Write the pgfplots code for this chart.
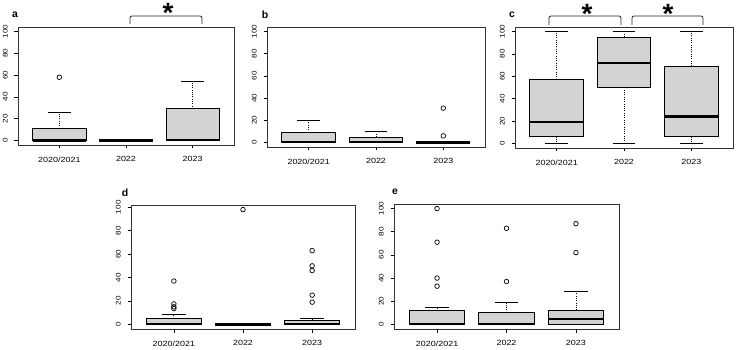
\documentclass[border=0pt]{standalone}
\usepackage{fontspec}
\setmainfont{Liberation Sans}
\newfontfamily\tickfont[FakeStretch=1.2]{Liberation Sans}
\usepackage{pgfplots}
\pgfplotsset{compat=1.18}
\usepgfplotslibrary{statistics}
\definecolor{boxgray}{RGB}{211,211,211}

\pgfplotsset{
  rpanel/.style={
    scale only axis,
    xmin=0.38, xmax=3.62,
    ymin=-4, ymax=104,
    xtick={1,2,3},
    xticklabels={2020/2021,2022,2023},
    ytick={0,20,40,60,80,100},
    yticklabels={0,20,40,60,80,100},
    tick pos=left,
    tick align=outside,
    major tick length=3.5bp,
    tick style={black, line width=0.7bp},
    axis line style={black!80, line width=0.8bp},
    xticklabel style={font=\tickfont\fontsize{7.5}{8}\selectfont, inner sep=0pt, anchor=north},
    yticklabel style={font=\tickfont\fontsize{6.8}{7}\selectfont, inner sep=0pt, rotate=90, anchor=south},
    xticklabel shift=8bp,
    yticklabel shift=6.5bp,
    clip=false,
  },
  rbox/.style={
    black, line width=0.9bp,
    mark=o, mark size=2.3bp, mark options={solid, line width=0.7bp},
    boxplot/draw direction=y,
    boxplot/box extend=0.8,
    boxplot/whisker extend=0.34,
    boxplot/every box/.style={fill=boxgray, draw=black, line width=0.9bp},
    boxplot/every median/.style={line width=2.3bp},
    boxplot/draw/lower whisker/.code={%
      \draw[dash pattern=on 1bp off 1.3bp, line width=0.8bp]
        (boxplot box cs:\pgfplotsboxplotvalue{lower quartile},0.5) --
        (boxplot box cs:\pgfplotsboxplotvalue{lower whisker},0.5);
      \draw[line width=1bp]
        (boxplot whisker cs:\pgfplotsboxplotvalue{lower whisker},0) --
        (boxplot whisker cs:\pgfplotsboxplotvalue{lower whisker},1);
    },
    boxplot/draw/upper whisker/.code={%
      \draw[dash pattern=on 1bp off 1.3bp, line width=0.8bp]
        (boxplot box cs:\pgfplotsboxplotvalue{upper quartile},0.5) --
        (boxplot box cs:\pgfplotsboxplotvalue{upper whisker},0.5);
      \draw[line width=1bp]
        (boxplot whisker cs:\pgfplotsboxplotvalue{upper whisker},0) --
        (boxplot whisker cs:\pgfplotsboxplotvalue{upper whisker},1);
    },
  },
}

% box without outliers: position, lower whisker, lower quartile, median, upper quartile, upper whisker
\newcommand{\rbox}[6]{%
  \addplot[rbox, boxplot prepared={draw position=#1, lower whisker=#2,
    lower quartile=#3, median=#4, upper quartile=#5, upper whisker=#6}]
    coordinates {};
}
% same, followed by a list of outliers
\newcommand{\rboxo}[7]{%
  \addplot[rbox, boxplot prepared={draw position=#1, lower whisker=#2,
    lower quartile=#3, median=#4, upper quartile=#5, upper whisker=#6}]
    table[row sep=\\, y index=0] {v\\ #7};
}

\begin{document}
\begin{tikzpicture}
\useasboundingbox (0bp,0bp) rectangle (736bp,350bp);

% ---- a ----
\begin{axis}[rpanel, at={(18bp,205bp)}, anchor=south west, width=216bp, height=118bp]
  \rboxo{1}{0}{0}{0}{11}{26}{58\\}
  \rbox{2}{0}{0}{0}{0}{0}
  \rbox{3}{0}{0}{0.5}{29}{54}
\end{axis}

% ---- b ----
\begin{axis}[rpanel, at={(267bp,203bp)}, anchor=south west, width=218bp, height=120bp]
  \rbox{1}{0}{0}{0.5}{9}{20}
  \rbox{2}{0}{0}{0.5}{5}{10}
  \rboxo{3}{0}{0}{0}{0}{0}{31\\ 6\\}
\end{axis}

% ---- c ----
\begin{axis}[rpanel, at={(515bp,202bp)}, anchor=south west, width=218bp, height=121bp]
  \rbox{1}{0}{6}{19}{57}{100}
  \rbox{2}{0}{50}{72}{95}{100}
  \rbox{3}{0}{6}{24}{69}{100}
\end{axis}

% ---- d ----
\begin{axis}[rpanel, at={(131bp,21bp)}, anchor=south west, width=224bp, height=124bp,
  ymin=-3.92, ymax=101.92]
  \rboxo{1}{0}{0}{0.5}{5}{8.5}{37\\ 17.5\\ 15\\ 13.5\\}
  \rboxo{2}{0}{0}{0}{0}{0}{98\\}
  \rboxo{3}{0}{0}{0.5}{3.4}{5}{63\\ 50\\ 46\\ 25\\ 19\\}
\end{axis}

% ---- e ----
\begin{axis}[rpanel, at={(394bp,21bp)}, anchor=south west, width=225bp, height=125bp]
  \rboxo{1}{0}{0}{0.5}{11.6}{14.5}{100\\ 71\\ 40\\ 33\\}
  \rboxo{2}{0}{0}{0.5}{10}{19}{83\\ 37\\}
  \rboxo{3}{0}{0}{4.6}{12}{28.4}{87\\ 62\\}
\end{axis}

% panel letters
\begin{scope}[every node/.style={font=\fontsize{10.5}{10}\selectfont\bfseries, inner sep=0pt}]
  \node at (15bp,335bp) {a};
  \node at (265bp,335bp) {b};
  \node at (512bp,335bp) {c};
  \node at (125bp,157bp) {d};
  \node at (395bp,158bp) {e};
\end{scope}

% significance brackets
\begin{scope}[black!85, line width=0.8bp, rounded corners=2bp]
  \draw (130bp,326bp) -- (130bp,334bp) -- (202bp,334bp) -- (202bp,326bp);
  \draw (549bp,325bp) -- (549bp,334bp) -- (621bp,334bp) -- (621bp,325bp);
  \draw (632bp,325bp) -- (632bp,334bp) -- (703bp,334bp) -- (703bp,325bp);
\end{scope}
\begin{scope}[every node/.style={font=\fontsize{28}{28}\selectfont\bfseries, inner sep=0pt, anchor=north}]
  \node at (168bp,347bp) {*};
  \node at (587bp,346bp) {*};
  \node at (668bp,346bp) {*};
\end{scope}
\end{tikzpicture}
\end{document}
